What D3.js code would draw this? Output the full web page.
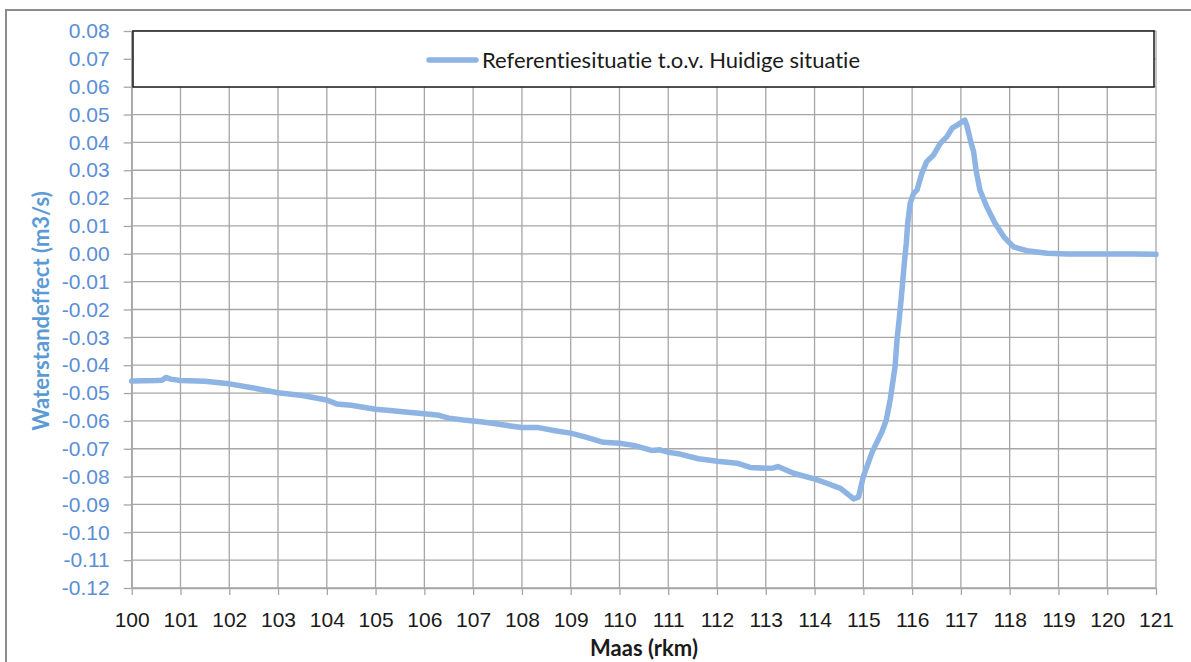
<!DOCTYPE html>
<html lang="nl">
  <head>
    <meta charset="UTF-8" />
    <title>Waterstandeffect Maas</title>
    <script src="https://d3js.org/d3.v7.min.js"></script>
    <style>
      body {
        margin: 0;
        background: #fff;
      }
      svg {
        font-family: Lato, "Open Sans", sans-serif;
        font-variant-ligatures: none;
      }
      .grid line {
        stroke: #a6a6a6;
        stroke-width: 1.3;
      }
      .axis path,
      .axis line {
        stroke: #a6a6a6;
        stroke-width: 1.3;
      }
      .y.axis text {
        fill: #5a8ed6;
        font-size: 21px;
      }
      .x.axis text {
        fill: #1a1a1a;
        font-size: 21px;
      }
    </style>
  </head>
  <body>
    <div id="chart"></div>
    <script>
      // rivierkilometer en waterstandeffect
      const km = [
        100.0, 100.5, 100.62, 100.7, 100.8, 101.0, 101.5, 102.0, 102.5, 103.0, 103.5, 104.0, 104.2, 104.5, 105.0,
        105.3, 105.5, 106.0, 106.3, 106.5, 106.8, 107.0, 107.2, 107.5, 107.76, 108.0, 108.34, 108.71, 109.0, 109.33,
        109.67, 110.0, 110.29, 110.66, 110.83, 111.01, 111.24, 111.62, 112.01, 112.41, 112.68, 113.01, 113.16, 113.25,
        113.57, 114.01, 114.25, 114.53, 114.7, 114.8, 114.9, 115.0, 115.18, 115.38, 115.47, 115.55, 115.65, 115.69,
        115.74, 115.78, 115.84, 115.88, 115.91, 115.96, 116.03, 116.1, 116.2, 116.3, 116.44, 116.58, 116.71, 116.82,
        116.95, 117.08, 117.12, 117.21, 117.26, 117.31, 117.39, 117.53, 117.7, 117.88, 118.08, 118.35, 118.77, 119.18,
        119.86, 120.54, 121.0,
      ];
      const effect = [
        -0.0457, -0.0455, -0.0454, -0.0444, -0.045, -0.0455, -0.0458, -0.0467, -0.0482, -0.0499, -0.0509, -0.0525,
        -0.0539, -0.0544, -0.0558, -0.0563, -0.0566, -0.0574, -0.058, -0.059, -0.0597, -0.06, -0.0604, -0.0611,
        -0.0618, -0.0624, -0.0624, -0.0636, -0.0644, -0.0659, -0.0677, -0.068, -0.0688, -0.0706, -0.0704, -0.0713,
        -0.0719, -0.0736, -0.0745, -0.0752, -0.0767, -0.077, -0.0769, -0.0764, -0.0788, -0.0809, -0.0824, -0.0842,
        -0.0866, -0.088, -0.0874, -0.08, -0.0712, -0.064, -0.0597, -0.0525, -0.0405, -0.0309, -0.0226, -0.0154,
        -0.0034, 0.0038, 0.011, 0.0181, 0.0217, 0.0229, 0.0289, 0.0331, 0.0355, 0.0397, 0.042, 0.0451, 0.0465, 0.048,
        0.0462, 0.0397, 0.0367, 0.0301, 0.0229, 0.0169, 0.011, 0.0061, 0.0025, 0.0011, 0.0002, -0.0001, -0.0001,
        -0.0001, -0.0002,
      ];
      const xTicks = d3.range(100, 122);
      const yTicks = d3.range(-12, 9).map((i) => i / 100);
      const seriesName = "Referentiesituatie t.o.v. Huidige situatie";

      const width = 1191;
      const height = 662;
      const plotLeft = 131.7,
        plotRight = 1156,
        plotTop = 31,
        plotBottom = 588;

      const svg = d3.select("#chart").append("svg").attr("width", width).attr("height", height);

      // kader om de hele grafiek
      svg
        .append("rect")
        .attr("x", 6)
        .attr("y", 10)
        .attr("width", 1200)
        .attr("height", 700)
        .attr("fill", "#fff")
        .attr("stroke", "#8c8c8c")
        .attr("stroke-width", 2);

      const x = d3.scaleLinear().domain([100, 121]).range([plotLeft, plotRight]);
      const y = d3.scaleLinear().domain([-0.12, 0.08]).range([plotBottom, plotTop]);

      // rasterlijnen
      const grid = svg.append("g").attr("class", "grid");
      grid
        .selectAll(".v")
        .data(xTicks)
        .enter()
        .append("line")
        .attr("x1", (d) => x(d))
        .attr("x2", (d) => x(d))
        .attr("y1", plotTop)
        .attr("y2", plotBottom);
      grid
        .selectAll(".h")
        .data(yTicks)
        .enter()
        .append("line")
        .attr("x1", plotLeft)
        .attr("x2", plotRight)
        .attr("y1", (d) => y(d))
        .attr("y2", (d) => y(d));

      // assen
      svg
        .append("g")
        .attr("class", "y axis")
        .attr("transform", `translate(${plotLeft},0)`)
        .call(
          d3
            .axisLeft(y)
            .tickValues(yTicks)
            .tickSize(8)
            .tickSizeOuter(0)
            .tickPadding(14)
            .tickFormat((d) => d.toFixed(2))
        );

      svg
        .append("g")
        .attr("class", "x axis")
        .attr("transform", `translate(0,${plotBottom})`)
        .call(d3.axisBottom(x).tickValues(xTicks).tickSize(7).tickSizeOuter(0).tickPadding(17).tickFormat(d3.format("d")));

      svg.selectAll(".axis .domain").attr("stroke", "#a6a6a6");

      // de lijn
      const line = d3
        .line()
        .x((d, i) => x(km[i]))
        .y((d) => y(d));

      svg
        .append("path")
        .datum(effect)
        .attr("d", line)
        .attr("fill", "none")
        .attr("stroke", "#8db4e3")
        .attr("stroke-width", 5.5)
        .attr("stroke-linejoin", "round")
        .attr("stroke-linecap", "round");

      // legenda
      const legend = svg.append("g");
      legend
        .append("rect")
        .attr("x", 133)
        .attr("y", 31)
        .attr("width", 1021)
        .attr("height", 56)
        .attr("fill", "#fff")
        .attr("stroke", "#1a1a1a")
        .attr("stroke-width", 1.5);
      legend
        .append("line")
        .attr("x1", 429)
        .attr("x2", 476)
        .attr("y1", 60)
        .attr("y2", 60)
        .attr("stroke", "#8db4e3")
        .attr("stroke-width", 5.5)
        .attr("stroke-linecap", "round");
      legend
        .append("text")
        .attr("x", 482)
        .attr("y", 68)
        .attr("font-size", 22)
        .attr("fill", "#1a1a1a")
        .text(seriesName);

      // astitels
      svg
        .append("text")
        .attr("x", 644)
        .attr("y", 656)
        .attr("text-anchor", "middle")
        .attr("font-size", 22)
        .attr("font-weight", "bold")
        .attr("fill", "#1a1a1a")
        .text("Maas (rkm)");

      svg
        .append("text")
        .attr("transform", "translate(49,311) rotate(-90)")
        .attr("text-anchor", "middle")
        .attr("font-size", 22)
        .attr("font-weight", "bold")
        .attr("fill", "#5b9bd5")
        .text("Waterstandeffect (m3/s)");
    </script>
  </body>
</html>
